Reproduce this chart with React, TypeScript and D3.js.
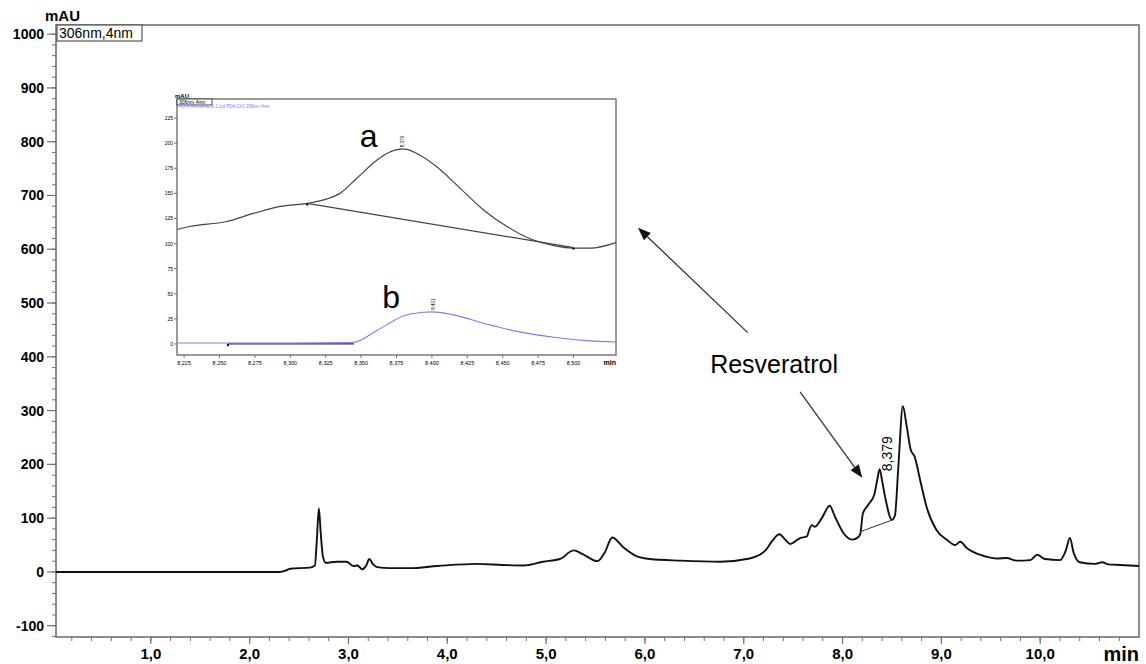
import React, { useEffect, useRef } from 'react';
import * as d3 from 'd3';

// main chromatogram (min, mAU)
const mainTime = [0.04, 2.306, 2.357, 2.41, 2.61, 2.66, 2.68, 2.70, 2.72, 2.74, 2.77, 2.88, 2.98, 3.05, 3.09, 3.14, 3.18, 3.21, 3.25, 3.29, 3.42, 3.62, 3.90, 4.30, 4.56, 4.77, 4.97, 5.14, 5.28, 5.37, 5.52, 5.59, 5.67, 5.78, 5.92, 6.05, 6.36, 6.76, 7.06, 7.22, 7.29, 7.36, 7.42, 7.47, 7.57, 7.64, 7.66, 7.69, 7.72, 7.79, 7.87, 7.92, 8.01, 8.10, 8.16, 8.18, 8.205, 8.26, 8.32, 8.35, 8.375, 8.40, 8.43, 8.50, 8.53, 8.566, 8.61, 8.65, 8.69, 8.73, 8.785, 8.85, 8.95, 9.055, 9.14, 9.19, 9.26, 9.39, 9.56, 9.66, 9.76, 9.90, 9.97, 10.05, 10.20, 10.26, 10.30, 10.34, 10.40, 10.55, 10.63, 10.69, 10.81, 11.0];
const mainAbs = [0, 0, 2, 6, 8, 12, 60, 118, 70, 30, 17, 19, 19, 11, 12, 5, 12, 24, 14, 9, 7, 7, 11, 15, 13, 12, 19, 24, 40, 33, 20, 35, 64, 46, 29, 24, 21, 19, 25, 40, 58, 70, 60, 52, 63, 66, 77, 87, 84, 100, 123, 104, 72, 60, 65, 71, 108, 125, 143, 170, 191, 170, 140, 97, 105, 200, 308, 270, 227, 214, 171, 121, 78, 60, 50, 56, 44, 32, 25, 26, 21, 22, 32, 24, 22, 40, 63, 35, 18, 15, 18, 14, 13, 11];

// integration baseline under the resveratrol peak
const mainBaseT = [8.18, 8.51];
const mainBaseV = [75, 97];
const peakLabel = '8,379';
const peakLabelT = 8.379;

const yTicks = [-100, 0, 100, 200, 300, 400, 500, 600, 700, 800, 900, 1000];
const xTicks = [1, 2, 3, 4, 5, 6, 7, 8, 9, 10];

// inset: zoom of the peak (a: sample, b: standard)
const insetTimeA = [8.220, 8.229, 8.255, 8.274, 8.293, 8.312, 8.326, 8.335, 8.347, 8.361, 8.370, 8.378, 8.381, 8.389, 8.403, 8.420, 8.436, 8.453, 8.469, 8.486, 8.500, 8.512, 8.530];
const insetAbsA = [114, 117, 122, 130, 137, 140, 144.5, 150, 165, 183, 191, 194, 194, 190, 177, 155, 134, 117, 105, 98, 95.5, 95.5, 101];
const insetTimeB = [8.220, 8.300, 8.343, 8.350, 8.356, 8.368, 8.380, 8.394, 8.400, 8.415, 8.439, 8.462, 8.486, 8.509, 8.530];
const insetAbsB = [1, 1, 1.5, 4, 9, 19, 28, 31.6, 32, 29, 19.6, 12, 6.7, 3.3, 2];
const insetBaseA = [[8.312, 140], [8.500, 96]];
const insetBaseB = [[8.256, 0], [8.345, 0]];
const insetYTicks = [0, 25, 50, 75, 100, 125, 150, 175, 200, 225];
const insetXTicks = [8.225, 8.25, 8.275, 8.3, 8.325, 8.35, 8.375, 8.4, 8.425, 8.45, 8.475, 8.5];
const insetPeaks = [{ t: 8.379, v: 194, label: '8,379' }, { t: 8.401, v: 32, label: '8,401' }];

const W = 1146;
const H = 664;
const axisCol = '#707070';
const blue = '#7b7bff';

const App = () => {
  const svgRef = useRef<SVGSVGElement | null>(null);

  useEffect(() => {
    const svg = d3.select(svgRef.current);
    svg.selectAll('*').remove();

    const left = 56, right = 1139, top = 25, bottom = 637;
    const x = d3.scaleLinear().domain([0.04, 11.0]).range([left, right]);
    const y = d3.scaleLinear().domain([-121, 1017]).range([bottom, top]);

    const g = svg.append('g');

    // frame
    g.append('rect')
      .attr('x', left).attr('y', top)
      .attr('width', right - left).attr('height', bottom - top)
      .attr('fill', 'none').attr('stroke', axisCol).attr('stroke-width', 1.6);

    // y axis ticks
    const yMinor = d3.range(-120, 1001, 20);
    g.selectAll('.ymin').data(yMinor).enter().append('line')
      .attr('x1', left - 4).attr('x2', left)
      .attr('y1', (d) => y(d)).attr('y2', (d) => y(d))
      .attr('stroke', axisCol).attr('stroke-width', 1);
    g.selectAll('.ymaj').data(yTicks).enter().append('line')
      .attr('x1', left - 9).attr('x2', left)
      .attr('y1', (d) => y(d)).attr('y2', (d) => y(d))
      .attr('stroke', axisCol).attr('stroke-width', 1.2);
    g.selectAll('.ylab').data(yTicks).enter().append('text')
      .attr('x', left - 12).attr('y', (d) => y(d) + 5)
      .attr('text-anchor', 'end')
      .attr('font-family', 'Liberation Sans, Arial, sans-serif')
      .attr('font-weight', 'bold').attr('font-size', 14)
      .text((d) => String(d));

    // x axis ticks
    const xMinor = d3.range(0.2, 10.91, 0.2);
    g.selectAll('.xmin').data(xMinor).enter().append('line')
      .attr('x1', (d) => x(d)).attr('x2', (d) => x(d))
      .attr('y1', bottom).attr('y2', bottom + 4)
      .attr('stroke', axisCol).attr('stroke-width', 1);
    g.selectAll('.xmaj').data(xTicks).enter().append('line')
      .attr('x1', (d) => x(d)).attr('x2', (d) => x(d))
      .attr('y1', bottom).attr('y2', bottom + 7)
      .attr('stroke', axisCol).attr('stroke-width', 1.2);
    g.selectAll('.xlab').data(xTicks).enter().append('text')
      .attr('x', (d) => x(d)).attr('y', bottom + 22)
      .attr('text-anchor', 'middle')
      .attr('font-family', 'Liberation Sans, Arial, sans-serif')
      .attr('font-weight', 'bold').attr('font-size', 15)
      .text((d) => d3.format('.1f')(d).replace('.', ','));

    g.append('text').attr('x', right).attr('y', bottom + 24)
      .attr('text-anchor', 'end')
      .attr('font-family', 'Liberation Sans, Arial, sans-serif')
      .attr('font-weight', 'bold').attr('font-size', 20)
      .text('min');
    g.append('text').attr('x', 45).attr('y', 21)
      .attr('font-family', 'Liberation Sans, Arial, sans-serif')
      .attr('font-weight', 'bold').attr('font-size', 15)
      .text('mAU');

    // channel box
    g.append('rect').attr('x', 57).attr('y', 25).attr('width', 85).attr('height', 16)
      .attr('fill', 'white').attr('stroke', '#555').attr('stroke-width', 1.2);
    g.append('text').attr('x', 59).attr('y', 38)
      .attr('font-family', 'Liberation Sans, Arial, sans-serif')
      .attr('font-size', 14)
      .text('306nm,4nm');

    // trace
    const pts = mainTime.map((t, i) => [t, mainAbs[i]] as [number, number]);
    const line = d3.line<[number, number]>()
      .x((d) => x(d[0])).y((d) => y(d[1]))
      .curve(d3.curveMonotoneX);
    g.append('path').datum(pts)
      .attr('fill', 'none').attr('stroke', '#111').attr('stroke-width', 1.9)
      .attr('d', line);

    // integration baseline
    g.append('line')
      .attr('x1', x(mainBaseT[0])).attr('y1', y(mainBaseV[0]))
      .attr('x2', x(mainBaseT[1])).attr('y2', y(mainBaseV[1]))
      .attr('stroke', '#333').attr('stroke-width', 1);

    g.append('text')
      .attr('transform', `translate(${x(peakLabelT) + 12},${y(191) + 2}) rotate(-90)`)
      .attr('font-family', 'Liberation Sans, Arial, sans-serif')
      .attr('font-size', 14)
      .text(peakLabel);

    // arrows + annotation
    const arrow = (t0: number, v0: number, t1: number, v1: number) => {
      const x0 = x(t0), y0 = y(v0), x1 = x(t1), y1 = y(v1);
      const ang = Math.atan2(y1 - y0, x1 - x0);
      const len = 13, wid = 5;
      const bx = x1 - len * Math.cos(ang), by = y1 - len * Math.sin(ang);
      g.append('line').attr('x1', x0).attr('y1', y0).attr('x2', bx).attr('y2', by)
        .attr('stroke', '#333').attr('stroke-width', 1.3);
      const p = [
        [x1, y1],
        [bx + wid * Math.sin(ang), by - wid * Math.cos(ang)],
        [bx - wid * Math.sin(ang), by + wid * Math.cos(ang)],
      ];
      g.append('path').attr('d', 'M' + p.map((q) => q.join(',')).join('L') + 'Z').attr('fill', '#111');
    };
    arrow(7.57, 335, 8.2, 175);
    arrow(7.04, 445, 5.93, 640);
    g.append('text').attr('x', x(6.66)).attr('y', y(370))
      .attr('font-family', 'Liberation Sans, Arial, sans-serif')
      .attr('font-size', 25)
      .text('Resveratrol');

    // ---- inset ----
    const il = 177, ir = 616, it = 99, ib = 355;
    const ix = d3.scaleLinear().domain([8.22, 8.53]).range([il, ir]);
    const iy = d3.scaleLinear().domain([-11, 244]).range([ib, it]);
    const ig = svg.append('g');
    ig.append('rect').attr('x', il).attr('y', it).attr('width', ir - il).attr('height', ib - it)
      .attr('fill', 'white').attr('stroke', axisCol).attr('stroke-width', 1.4);

    ig.selectAll('.iyt').data(insetYTicks).enter().append('line')
      .attr('x1', il - 3).attr('x2', il).attr('y1', (d) => iy(d)).attr('y2', (d) => iy(d))
      .attr('stroke', axisCol).attr('stroke-width', 1);
    ig.selectAll('.iyl').data(insetYTicks).enter().append('text')
      .attr('x', il - 4).attr('y', (d) => iy(d) + 2).attr('text-anchor', 'end')
      .attr('font-family', 'Liberation Sans, Arial, sans-serif').attr('font-size', 5)
      .text((d) => String(d));
    ig.selectAll('.ixt').data(insetXTicks).enter().append('line')
      .attr('x1', (d) => ix(d)).attr('x2', (d) => ix(d)).attr('y1', ib).attr('y2', ib + 3)
      .attr('stroke', axisCol).attr('stroke-width', 1);
    ig.selectAll('.ixl').data(insetXTicks).enter().append('text')
      .attr('x', (d) => ix(d)).attr('y', ib + 10).attr('text-anchor', 'middle')
      .attr('font-family', 'Liberation Sans, Arial, sans-serif').attr('font-size', 5.5)
      .text((d) => d3.format('.3f')(d).replace('.', ','));
    ig.append('text').attr('x', ir).attr('y', ib + 10).attr('text-anchor', 'end')
      .attr('font-family', 'Liberation Sans, Arial, sans-serif').attr('font-size', 7)
      .attr('font-weight', 'bold').text('min');
    ig.append('text').attr('x', il - 2).attr('y', it - 1)
      .attr('font-family', 'Liberation Sans, Arial, sans-serif').attr('font-size', 6)
      .attr('font-weight', 'bold').text('mAU');
    ig.append('rect').attr('x', il).attr('y', it).attr('width', 35).attr('height', 6)
      .attr('fill', 'white').attr('stroke', '#222').attr('stroke-width', 0.8);
    ig.append('text').attr('x', il + 2).attr('y', it + 5)
      .attr('font-family', 'Liberation Sans, Arial, sans-serif').attr('font-size', 5)
      .text('306nm,4nm');
    ig.append('text').attr('x', il + 2).attr('y', it + 9)
      .attr('font-family', 'Liberation Sans, Arial, sans-serif').attr('font-size', 4.5)
      .attr('fill', blue).text('PD-A:Resveratrol-1.lcd PDA Ch1 306nm,4nm');

    const iline = d3.line<[number, number]>()
      .x((d) => ix(d[0])).y((d) => iy(d[1]))
      .curve(d3.curveMonotoneX);
    const ptsA = insetTimeA.map((t, i) => [t, insetAbsA[i]] as [number, number]);
    const ptsB = insetTimeB.map((t, i) => [t, insetAbsB[i]] as [number, number]);

    ig.append('path').datum(insetBaseA as [number, number][])
      .attr('fill', 'none').attr('stroke', '#444').attr('stroke-width', 1.2).attr('d', iline);
    ig.append('path').datum(insetBaseB as [number, number][])
      .attr('fill', 'none').attr('stroke', '#333').attr('stroke-width', 1.2).attr('d', iline);
    ig.append('path').datum(ptsB)
      .attr('fill', 'none').attr('stroke', blue).attr('stroke-width', 1.1).attr('d', iline);
    ig.append('path').datum(ptsA)
      .attr('fill', 'none').attr('stroke', '#444').attr('stroke-width', 1.2).attr('d', iline);

    [insetBaseA[0], insetBaseA[1], insetBaseB[0]].forEach((d) => {
      ig.append('circle').attr('cx', ix(d[0])).attr('cy', iy(d[1]) + 1).attr('r', 1.2).attr('fill', '#111');
    });

    ig.selectAll('.ipk').data(insetPeaks).enter().append('text')
      .attr('transform', (d) => `translate(${ix(d.t) + 2},${iy(d.v) - 2}) rotate(-90)`)
      .attr('font-family', 'Liberation Sans, Arial, sans-serif').attr('font-size', 4.5)
      .text((d) => d.label);

    ig.append('text').attr('x', ix(8.349)).attr('y', iy(196))
      .attr('font-family', 'Liberation Sans, Arial, sans-serif').attr('font-size', 32)
      .text('a');
    ig.append('text').attr('x', ix(8.365)).attr('y', iy(36))
      .attr('font-family', 'Liberation Sans, Arial, sans-serif').attr('font-size', 32)
      .text('b');
  }, []);

  return (
    <svg ref={svgRef} width={W} height={H}
      style={{ position: 'absolute', left: 0, top: 0, background: 'white' }} />
  );
};

export default App;
